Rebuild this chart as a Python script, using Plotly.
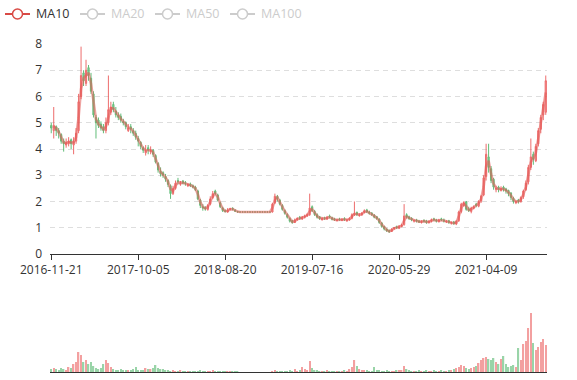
import plotly.graph_objects as go
import pandas as pd

# ---------------- data ----------------
tick_labels = ["2016-11-21", "2017-10-05", "2018-08-20", "2019-07-16", "2020-05-29", "2021-04-09"]
label_interval = 35  # categories between labelled ticks

opens = [
    4.9, 4.7, 4.85, 4.7, 4.55, 4.3, 4.15, 4.2, 4.35, 4.15,
    4.3, 4.7, 6.0, 6.9, 6.5, 7.1, 6.7, 6.1, 5.2, 5.1,
    4.95, 4.85, 4.7, 5.0, 5.4, 5.7, 5.45, 5.3, 5.25, 5.05,
    5.0, 4.7, 4.85, 4.7, 4.6, 4.4, 4.25, 4.05, 3.85, 4.05,
    3.9, 3.95, 3.75, 3.45, 3.15, 3.1, 2.95, 2.8, 2.6, 2.3,
    2.5, 2.8, 2.65, 2.78, 2.72, 2.6, 2.67, 2.6, 2.55, 2.4,
    2.05, 1.8, 1.78, 1.7, 1.9, 2.15, 2.4, 2.25, 1.95, 1.75,
    1.66, 1.6, 1.7, 1.74, 1.68, 1.62, 1.6, 1.6, 1.6, 1.6,
    1.6, 1.6, 1.6, 1.6, 1.6, 1.6, 1.6, 1.6, 1.6, 1.6,
    1.95, 2.2, 2.05, 1.85, 1.65, 1.5, 1.35, 1.28, 1.2, 1.3,
    1.4, 1.33, 1.4, 1.45, 1.5, 1.8, 1.62, 1.5, 1.42, 1.3,
    1.38, 1.33, 1.45, 1.38, 1.34, 1.27, 1.33, 1.28, 1.35, 1.27,
    1.3, 1.36, 1.48, 1.58, 1.46, 1.5, 1.58, 1.68, 1.6, 1.55,
    1.48, 1.42, 1.33, 1.18, 1.05, 0.95, 0.9, 0.86, 0.97, 1.04,
    0.98, 1.05, 1.12, 1.5, 1.42, 1.36, 1.25, 1.3, 1.26, 1.2,
    1.28, 1.26, 1.2, 1.24, 1.34, 1.3, 1.23, 1.34, 1.3, 1.22,
    1.27, 1.17, 1.22, 1.14, 1.27, 1.62, 1.85, 1.98, 1.72, 1.62,
    1.74, 1.9, 1.82, 2.02, 2.25, 2.95, 3.7, 3.25, 2.85, 2.45,
    2.55, 2.42, 2.55, 2.48, 2.42, 2.32, 2.12, 1.95, 2.06, 2.0,
    2.18, 2.45, 2.75, 3.3, 3.8, 3.55, 4.2, 4.75, 5.3, 5.4,
]
closes = [
    4.8, 4.9, 4.7, 4.6, 4.3, 4.2, 4.25, 4.3, 4.2, 4.3,
    4.6, 5.8, 6.8, 6.6, 7.0, 6.8, 6.2, 5.3, 5.0, 4.9,
    4.8, 4.7, 5.0, 5.5, 5.6, 5.5, 5.3, 5.2, 5.1, 5.0,
    4.85, 4.8, 4.75, 4.6, 4.45, 4.3, 4.1, 3.95, 3.95, 3.95,
    3.95, 3.8, 3.5, 3.2, 3.05, 3.0, 2.85, 2.65, 2.3, 2.5,
    2.7, 2.75, 2.72, 2.7, 2.68, 2.65, 2.6, 2.55, 2.45, 2.1,
    1.85, 1.75, 1.72, 1.85, 2.1, 2.3, 2.3, 2.05, 1.8, 1.65,
    1.62, 1.68, 1.72, 1.7, 1.63, 1.6, 1.6, 1.6, 1.6, 1.6,
    1.6, 1.6, 1.6, 1.6, 1.6, 1.6, 1.6, 1.6, 1.6, 1.9,
    2.2, 2.1, 1.9, 1.7, 1.55, 1.4, 1.25, 1.2, 1.3, 1.35,
    1.35, 1.4, 1.45, 1.5, 1.75, 1.65, 1.5, 1.4, 1.35, 1.35,
    1.35, 1.4, 1.4, 1.32, 1.3, 1.3, 1.3, 1.32, 1.3, 1.3,
    1.35, 1.5, 1.55, 1.5, 1.5, 1.55, 1.65, 1.6, 1.55, 1.5,
    1.4, 1.35, 1.2, 1.05, 0.95, 0.88, 0.85, 0.95, 1.0, 1.0,
    1.05, 1.1, 1.45, 1.4, 1.35, 1.3, 1.28, 1.25, 1.22, 1.25,
    1.25, 1.2, 1.25, 1.3, 1.3, 1.25, 1.3, 1.3, 1.25, 1.25,
    1.2, 1.2, 1.15, 1.25, 1.6, 1.9, 1.95, 1.7, 1.65, 1.75,
    1.8, 1.85, 2.0, 2.2, 2.9, 3.8, 3.3, 2.8, 2.55, 2.5,
    2.45, 2.5, 2.45, 2.4, 2.3, 2.15, 2.0, 2.0, 2.0, 2.15,
    2.4, 2.7, 3.3, 3.7, 3.6, 4.1, 4.7, 5.2, 5.7, 6.6,
]
highs = [
    5.0, 5.6, 4.9, 4.8, 4.6, 4.4, 4.4, 4.45, 4.4, 4.45,
    4.8, 6.1, 7.9, 7.0, 7.4, 7.2, 6.9, 6.2, 5.3, 5.2,
    5.05, 4.95, 5.2, 6.8, 5.8, 5.8, 5.6, 5.4, 5.35, 5.15,
    5.05, 4.95, 4.95, 4.8, 4.7, 4.5, 4.3, 4.1, 4.15, 4.15,
    4.1, 4.0, 3.8, 3.5, 3.3, 3.15, 3.05, 2.85, 2.65, 2.6,
    2.8, 2.9, 2.78, 2.82, 2.78, 2.7, 2.72, 2.65, 2.6, 2.45,
    2.1, 1.9, 1.82, 1.9, 2.2, 2.4, 2.45, 2.3, 2.0, 1.8,
    1.7, 1.75, 1.76, 1.78, 1.7, 1.64, 1.6, 1.6, 1.6, 1.6,
    1.6, 1.6, 1.6, 1.6, 1.6, 1.6, 1.6, 1.6, 1.6, 1.95,
    2.3, 2.25, 2.1, 1.9, 1.7, 1.55, 1.4, 1.3, 1.35, 1.4,
    1.45, 1.45, 1.5, 1.55, 2.3, 1.85, 1.68, 1.55, 1.45, 1.4,
    1.42, 1.45, 1.5, 1.42, 1.38, 1.34, 1.38, 1.36, 1.4, 1.33,
    1.4, 1.55, 2.0, 1.62, 1.55, 1.6, 1.7, 1.72, 1.65, 1.6,
    1.52, 1.45, 1.36, 1.22, 1.08, 0.98, 0.93, 0.98, 1.02, 1.08,
    1.1, 1.15, 1.9, 1.55, 1.46, 1.4, 1.32, 1.34, 1.3, 1.28,
    1.32, 1.3, 1.28, 1.35, 1.38, 1.34, 1.34, 1.38, 1.35, 1.28,
    1.3, 1.24, 1.26, 1.28, 1.65, 1.95, 2.0, 2.02, 1.8, 1.8,
    1.85, 1.95, 2.05, 2.25, 3.0, 4.2, 4.2, 3.35, 2.9, 2.6,
    2.6, 2.58, 2.6, 2.52, 2.45, 2.36, 2.18, 2.05, 2.1, 2.2,
    2.45, 2.8, 3.4, 4.4, 3.9, 4.2, 4.8, 5.3, 5.8, 6.8,
]
lows = [
    4.6, 4.4, 4.5, 4.4, 4.2, 3.9, 4.05, 4.1, 4.0, 3.8,
    4.2, 4.6, 5.9, 6.4, 6.4, 6.6, 6.1, 5.2, 4.4, 4.8,
    4.7, 4.6, 4.6, 4.9, 5.3, 5.4, 5.2, 5.1, 5.0, 4.9,
    4.75, 4.65, 4.6, 4.5, 4.35, 4.1, 4.0, 3.85, 3.75, 3.8,
    3.8, 3.7, 3.45, 3.1, 2.95, 2.9, 2.75, 2.55, 2.1, 2.25,
    2.45, 2.65, 2.6, 2.65, 2.6, 2.55, 2.55, 2.5, 2.4, 2.05,
    1.75, 1.65, 1.65, 1.65, 1.85, 2.1, 2.25, 2.0, 1.75, 1.6,
    1.58, 1.57, 1.66, 1.66, 1.6, 1.58, 1.6, 1.6, 1.6, 1.6,
    1.6, 1.6, 1.6, 1.6, 1.6, 1.6, 1.6, 1.6, 1.6, 1.58,
    1.9, 2.0, 1.85, 1.65, 1.5, 1.35, 1.2, 1.15, 1.18, 1.27,
    1.3, 1.3, 1.35, 1.42, 1.45, 1.6, 1.45, 1.35, 1.3, 1.28,
    1.3, 1.3, 1.36, 1.28, 1.26, 1.24, 1.27, 1.25, 1.26, 1.22,
    1.27, 1.32, 1.45, 1.45, 1.42, 1.45, 1.55, 1.56, 1.5, 1.45,
    1.36, 1.3, 1.15, 1.0, 0.9, 0.84, 0.8, 0.84, 0.92, 0.96,
    0.95, 1.02, 1.08, 1.35, 1.3, 1.25, 1.2, 1.2, 1.18, 1.16,
    1.2, 1.15, 1.16, 1.2, 1.25, 1.2, 1.2, 1.26, 1.2, 1.18,
    1.15, 1.12, 1.12, 1.1, 1.22, 1.55, 1.8, 1.65, 1.6, 1.55,
    1.7, 1.78, 1.78, 1.95, 2.2, 2.8, 3.1, 2.7, 2.45, 2.35,
    2.35, 2.38, 2.38, 2.3, 2.2, 2.05, 1.92, 1.9, 1.92, 1.95,
    2.1, 2.4, 2.65, 3.2, 3.4, 3.5, 4.1, 4.6, 5.1, 5.3,
]
volumes = [
    3, 4, 3, 2, 4, 3, 2, 5, 4, 8,
    10, 20, 17, 10, 12, 8, 10, 6, 4, 3,
    4, 8, 12, 9, 5, 3, 2, 2, 3, 2,
    2, 2, 2, 3, 5, 2, 2, 2, 4, 3,
    3, 4, 7, 4, 3, 3, 2, 2, 1, 1.5,
    1, 1, 1.5, 1, 1, 1, 1, 0.5, 1, 1,
    1.5, 1, 0.5, 0.5, 1, 1.2, 0.5, 0.5, 0.5, 0.3,
    0.3, 0.3, 0.5, 0.3, 0.3, 0.3, 0, 0, 0, 0,
    0, 0, 0, 0, 0, 0, 0, 0, 0, 1,
    2, 1, 1, 0.5, 0.5, 1, 2, 1, 3, 1,
    2, 5, 3, 2, 11, 4, 2, 1.5, 1, 1,
    1, 1.5, 1, 1, 1, 0.8, 1, 1, 1.2, 1,
    3, 5, 12, 6, 3, 2, 2, 1.5, 1, 1,
    5, 2, 1.5, 1, 1, 1.2, 1, 1, 1, 1.5,
    1.5, 2, 6, 3, 1.5, 1, 1, 1, 1.5, 1,
    1, 1.5, 1, 1, 2, 1, 1, 1.5, 1, 1,
    1.5, 2, 3, 4, 5, 7, 6, 4, 3, 4,
    5, 6, 9, 12, 14, 15, 13, 12, 14, 10,
    8, 13, 16, 8, 5, 6, 7, 5, 24, 12,
    28, 31, 44, 59, 29, 22, 25, 30, 33, 27,
]
legend_names = ["MA10", "MA20", "MA50", "MA100"]
legend_active = [True, False, False, False]

# ---------------- derived ----------------
N = len(closes)
xs = list(range(N))
# each candle here spans roughly 1.5 weeks, so a 2-candle mean mirrors the MA10
ma10 = pd.Series(closes).rolling(2).mean()

RED = "#eb5454"
GREEN = "#47b262"
vol_colors = [RED if c >= o else GREEN for o, c in zip(opens, closes)]

W, H = 577, 380
ML, MR, MT, MB = 50, 30, 44, 8
PW, PH = W - ML - MR, H - MT - MB
main_bottom_px = 254
vol_top_px = 300


def px2paper(px, py):
    return (px - ML) / PW, (H - MB - py) / PH


fig = go.Figure()
fig.add_trace(go.Candlestick(
    x=xs, open=opens, high=highs, low=lows, close=closes,
    xaxis="x", yaxis="y",
    increasing=dict(line=dict(color=RED, width=1), fillcolor="rgba(235,84,84,0.75)"),
    decreasing=dict(line=dict(color=GREEN, width=1), fillcolor="rgba(71,178,98,0.75)"),
    whiskerwidth=0, opacity=0.85, showlegend=False, hoverinfo="skip",
))
fig.add_trace(go.Scatter(
    x=xs, y=ma10, mode="lines", name="MA10",
    line=dict(color="rgba(226,90,86,0.55)", width=2.6),
    xaxis="x", yaxis="y", showlegend=False, hoverinfo="skip",
))
fig.add_trace(go.Bar(
    x=xs, y=volumes, marker=dict(color=vol_colors, line=dict(width=0)),
    opacity=0.55, width=0.55, xaxis="x2", yaxis="y2", showlegend=False, hoverinfo="skip",
))

main_dom0 = (H - MB - main_bottom_px) / PH
vol_dom1 = (H - MB - vol_top_px) / PH

fig.update_layout(
    width=W, height=H,
    margin=dict(l=ML, r=MR, t=MT, b=MB, pad=0, autoexpand=False),
    paper_bgcolor="white", plot_bgcolor="white",
    font=dict(family="Open Sans, sans-serif", size=12, color="#333"),
    showlegend=False,
    xaxis=dict(
        domain=[0, 1], anchor="y", range=[-0.5, N - 0.5], automargin=False,
        tickmode="array",
        tickvals=[i * label_interval for i in range(len(tick_labels))],
        ticktext=tick_labels,
        ticks="outside", ticklen=5, tickcolor="#333", tickwidth=1,
        showline=True, linecolor="#333", linewidth=1,
        showgrid=False, zeroline=False,
        tickfont=dict(size=12, color="#333"),
        rangeslider=dict(visible=False), fixedrange=True,
    ),
    yaxis=dict(
        domain=[main_dom0, 1], anchor="x", range=[0, 8], tick0=0, dtick=1,
        automargin=False,
        showgrid=True, gridcolor="#dedede", griddash="5px,4px", gridwidth=1,
        zeroline=False, showline=False, ticks="",
        tickfont=dict(size=12, color="#333"), ticklabelstandoff=7,
    ),
    xaxis2=dict(
        domain=[0, 1], anchor="y2", range=[-0.5, N - 0.5], automargin=False,
        showticklabels=False, ticks="", showline=True, linecolor="#333",
        linewidth=1, showgrid=False, zeroline=False,
    ),
    yaxis2=dict(
        domain=[0, vol_dom1], anchor="x2", range=[0, H - MB - vol_top_px],
        automargin=False, visible=False, showgrid=False, zeroline=False,
    ),
)

# ---------------- legend (ECharts style, top left) ----------------
legend_x = [5, 80, 155, 230]
legend_y = 14
shapes = []
annotations = []
for name, active, lx in zip(legend_names, legend_active, legend_x):
    col = "#d94a45" if active else "#cccccc"
    x0, y0 = px2paper(lx, legend_y)
    x1, _ = px2paper(lx + 25, legend_y)
    shapes.append(dict(type="line", xref="paper", yref="paper", x0=x0, x1=x1, y0=y0, y1=y0,
                       line=dict(color=col, width=2)))
    cx0, cy0 = px2paper(lx + 12.5 - 5, legend_y - 5)
    cx1, cy1 = px2paper(lx + 12.5 + 5, legend_y + 5)
    shapes.append(dict(type="circle", xref="paper", yref="paper", x0=cx0, x1=cx1, y0=cy1, y1=cy0,
                       fillcolor="white", line=dict(color=col, width=1.5)))
    tx, ty = px2paper(lx + 29, legend_y)
    annotations.append(dict(text=name, x=tx, y=ty, xref="paper", yref="paper",
                            xanchor="left", yanchor="middle", showarrow=False,
                            font=dict(size=12.5, color="#333" if active else "#cccccc")))
fig.update_layout(shapes=shapes, annotations=annotations)

fig.write_html("out.html", config={"displayModeBar": False},
               post_script="document.body.style.margin='0';")
